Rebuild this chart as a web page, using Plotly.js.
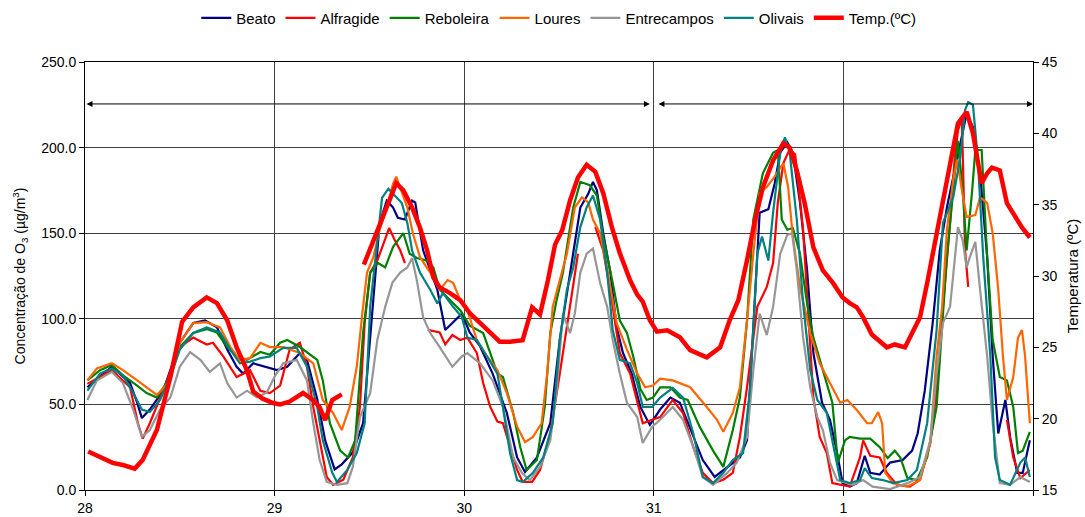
<!DOCTYPE html>
<html>
<head>
<meta charset="utf-8">
<script src="https://cdn.plot.ly/plotly-3.0.1.min.js"></script>
<style>
html,body{margin:0;padding:0;background:#fff;}
#chart{width:1085px;height:517px;}
</style>
</head>
<body>
<div id="chart"></div>
<script>
// x = hours since start of day 28
const dayTickHours = [0, 24, 48, 72, 96];
const dayTickLabels = ['28', '29', '30', '31', '1'];

const beato = [[0.3,60],[3.4,72],[5.7,62.5],[6.6,51],[7.2,42],[8.2,47],[9.9,58],[12.0,86],[13.7,97.5],[15.2,99],[16.7,95],[18.0,82],[19.2,72],[20.0,68],[21.3,74],[22.8,72],[24.3,70],[25.6,72],[27.2,80],[28.1,76],[29.4,53],[30.4,29],[31.6,12],[32.5,15],[33.9,22],[35.2,39],[36.1,88],[37.3,156],[38.2,169],[39.0,165],[39.6,159],[40.5,158],[41.4,169],[41.8,168],[42.8,140],[44.6,117],[45.6,93.5],[46.5,97.5],[47.7,103],[48.7,92],[50.0,84],[51.6,68],[53.4,45],[54.7,19],[55.7,10.5],[57.2,19],[58.9,39],[60.1,88],[61.4,127],[62.7,165],[63.7,173],[64.3,180],[64.8,175],[65.6,150],[66.5,127],[67.3,95],[68.1,80],[69.2,68],[70.3,48.5],[71.5,38],[72.8,47],[74.1,54],[75.3,51],[77.0,31],[78.2,17.5],[79.7,7.6],[81.3,13.5],[82.9,19],[83.8,29],[84.6,99],[85.4,162],[86.5,164],[87.3,179],[88.0,197],[88.9,203],[89.6,197],[90.5,168],[91.4,128.5],[92.2,80],[93.3,51],[94.3,41],[95.2,21.6],[95.9,4],[96.8,2],[97.7,4],[98.7,20],[99.4,10],[100.6,9],[101.9,16],[103.5,17.5],[104.7,23],[105.4,33],[106.3,58],[107.3,97.5],[108.2,140],[109.1,165],[110.4,194.5],[111.6,220],[112.4,212],[113.3,185],[114.2,136],[114.9,78],[115.6,33],[116.5,52.6],[117.1,31],[118.0,10],[118.7,10],[119.6,29]];

const alfragide = [[0.3,62],[3.4,70],[5.7,60],[6.7,39],[7.3,30],[8.2,39],[9.9,58],[12.0,83.5],[13.7,89],[15.4,85],[16.2,86],[17.5,78],[19.2,66],[20.9,70],[22.2,58],[23.4,56.6],[24.7,61],[25.9,82],[27.2,86],[28.1,72],[28.9,48.5],[29.7,29],[30.6,7.6],[31.4,3],[32.7,6],[33.9,19],[34.8,48.5],[35.4,97.5],[36.1,127],[37.0,134],[38.0,146],[38.5,153],[39.2,146],[39.9,140],[40.5,132.6],[41.9,null],[43.4,93.5],[44.9,92],[45.6,85],[46.5,90.5],[47.5,87.6],[48.4,89],[49.6,80],[50.4,62.5],[51.3,48.5],[52.2,40],[52.9,39],[53.8,25],[54.7,11.7],[55.4,4.7],[56.6,4.7],[57.6,11.7],[58.9,33],[60.1,68],[61.4,107],[62.4,138],[63.5,null],[64.6,153.6],[65.6,140],[66.8,107],[67.7,80],[69.0,68],[69.9,52.6],[70.6,39],[71.8,41],[72.8,42.6],[74.4,52.6],[75.7,45],[77.0,25],[78.2,10],[79.5,4],[80.8,6],[82.0,10],[82.9,31],[83.8,60],[85.1,107],[86.3,118.6],[87.1,132.6],[87.7,168],[88.4,191],[89.2,199],[89.9,196],[90.9,152],[92.2,54],[93.0,31],[93.9,21.6],[94.6,4],[95.6,3],[96.8,2],[98.1,19],[98.5,29],[99.4,20],[100.6,19],[101.5,10],[102.8,3],[104.4,2],[105.7,6],[107.0,27.5],[107.8,58],[108.6,107],[109.5,156],[110.1,194.5],[110.5,210],[111.0,217],[111.4,140],[111.8,118.6],[114.0,null],[116.7,41],[117.5,19],[118.4,7],[119.6,11.7]];

const reboleira = [[0.3,64],[1.9,70],[3.4,73],[4.8,67],[6.6,61],[7.8,56.6],[9.1,54],[10.8,66],[12.0,83.5],[13.7,91.7],[15.4,94],[16.7,92],[18.0,83.5],[19.2,78],[20.5,76],[22.2,80.6],[23.4,79],[24.7,86],[25.6,87.6],[27.2,83.5],[29.4,76],[30.1,64],[31.0,39],[32.3,23],[33.3,19],[34.2,29],[35.2,91.7],[36.1,127],[37.1,132.6],[38.0,130],[39.0,142],[40.3,150],[41.1,138],[42.0,135.5],[43.3,134],[44.1,130],[44.9,117],[46.2,111],[47.5,105],[48.7,96],[50.4,91.7],[51.3,80],[52.2,68],[52.9,66],[54.2,45],[55.1,25],[55.9,11.7],[57.2,17.5],[58.2,48.5],[58.9,91.7],[59.7,111],[60.5,127],[61.8,165],[62.7,180],[63.9,178],[64.8,172],[65.6,148],[66.8,121],[67.7,99],[68.6,91.7],[69.4,78],[70.3,59],[71.1,52.6],[71.9,54],[72.8,60],[74.1,60],[75.3,54],[76.3,52.6],[77.8,37],[79.5,23],[80.8,13.5],[82.0,35],[82.9,54],[83.8,99],[84.6,158],[85.8,185],[87.1,197],[87.7,198.6],[88.2,158],[88.9,152],[89.6,153],[90.5,138],[91.4,109],[92.2,89],[93.4,70],[94.6,51],[95.3,16],[96.2,29],[96.8,31],[98.1,30],[99.4,30],[100.6,25],[101.6,18.7],[102.5,23],[103.2,19],[104.1,7],[105.3,5.8],[106.6,19],[107.8,48.5],[108.5,97.5],[109.1,136],[109.9,175],[110.5,204],[111.1,175],[111.6,140],[112.3,175],[112.7,198.6],[113.5,198.6],[114.2,136],[114.9,87.6],[115.8,66],[116.7,64],[117.5,48.5],[118.1,21.6],[118.7,23],[119.6,34]];

const loures = [[0.3,64],[1.5,71],[3.4,74],[4.8,70],[6.6,64],[7.8,60],[9.1,55.5],[10.8,64],[12.0,86],[13.7,97.5],[15.4,98],[17.1,95],[18.4,83.5],[19.6,76],[20.9,77],[22.2,86],[23.4,83.5],[25.1,83.5],[27.2,80],[28.9,74],[30.1,52.6],[31.4,45],[32.5,35],[33.5,48.5],[34.4,72],[35.1,103],[35.7,127],[36.5,136],[37.3,152],[38.2,165],[39.0,179],[39.4,183],[40.1,173.5],[40.8,165],[41.5,150],[42.4,136],[43.7,127],[44.9,117],[45.9,122.6],[46.6,121],[47.5,111],[48.4,105],[49.6,87.6],[50.9,78],[52.2,70],[53.4,56.6],[54.7,37],[55.7,28],[56.7,31],[57.8,39],[58.5,68],[59.2,107],[60.1,122.6],[61.0,138],[62.0,165],[62.9,171],[63.7,168],[64.3,158],[65.2,150],[66.2,127],[67.3,97.5],[68.6,82],[69.9,68],[70.9,60],[71.9,61],[72.8,65],[74.4,64],[76.6,60],[78.7,48.5],[80.0,41],[80.8,34],[82.0,45],[82.9,60],[83.8,99],[84.6,138],[85.4,173.5],[86.3,177],[87.3,183],[88.4,191],[89.0,177],[89.6,148],[90.5,118.6],[91.8,91.7],[93.0,74],[94.3,62.5],[95.6,51],[96.5,52.6],[97.7,46.7],[99.0,39],[99.6,39],[100.4,45.5],[100.9,39],[101.3,10],[102.3,4],[104.1,2],[105.7,5.8],[107.0,27.5],[107.8,78],[108.5,107],[109.1,152],[109.9,181],[110.4,193],[111.0,175],[111.6,159.5],[112.7,160.6],[113.3,171],[114.2,167.6],[114.9,150],[115.6,117],[116.2,78],[116.7,52.6],[117.5,66],[118.1,89],[118.6,93.5],[119.0,78],[119.6,39]];

const entrecampos = [[0.3,52.6],[1.5,64],[3.4,69],[4.8,62.5],[6.1,47],[7.2,31],[8.2,35],[9.5,47],[10.8,54],[12.0,72],[13.3,80.6],[14.6,76],[15.8,69],[17.1,74],[18.0,62.5],[19.2,54],[20.5,58],[21.8,54],[23.0,57],[24.1,67],[25.1,74],[26.8,76],[28.1,64],[28.9,39],[29.7,17.5],[30.6,4.7],[31.9,3],[33.2,4],[33.9,13.5],[34.8,42.6],[36.1,56.6],[37.0,87.6],[38.0,107],[38.9,121],[39.9,127],[40.8,130],[41.4,135.5],[42.0,122.6],[42.8,101],[43.7,91.7],[44.9,83.5],[46.5,72],[47.7,78],[48.4,80],[50.0,74],[51.6,64],[52.9,48.5],[54.2,19],[55.3,10],[56.3,5.8],[57.6,13.5],[58.9,29],[59.7,58],[60.5,103],[61.4,91.7],[62.0,103],[62.7,127],[63.5,138],[64.3,141],[65.2,121],[66.1,107],[66.8,87.6],[67.7,68],[68.6,51],[69.9,42.6],[70.6,27.5],[71.8,37],[72.8,41],[74.4,48.5],[75.7,41],[77.0,25],[78.2,7.6],[79.5,3],[81.3,10],[82.5,16],[83.8,31],[84.6,70],[85.4,103],[86.3,90.5],[87.1,107],[88.0,138],[88.9,149],[89.5,150],[90.1,128.5],[90.9,89],[91.8,60],[92.7,42.6],[93.4,35],[94.3,16],[95.2,5.8],[96.5,4],[97.2,3],[98.5,5.8],[99.7,2],[101.9,0.5],[104.1,4],[105.7,7.6],[107.0,29],[107.8,68],[108.6,97.5],[109.5,107],[110.1,136],[110.5,153.6],[111.1,146],[111.6,130],[112.0,136],[112.7,145],[113.3,117],[114.2,78],[114.9,39],[115.8,4],[117.1,3],[118.4,7.6],[119.6,4.7]];

const olivais = [[0.3,58],[1.9,68],[3.4,71],[4.8,67],[6.1,56.6],[7.2,47],[8.2,45.5],[9.5,52.6],[10.8,66],[12.0,82],[13.7,91.7],[15.4,95],[17.1,92],[18.4,82],[19.6,74],[20.9,75],[22.2,77],[23.4,78],[25.1,83],[26.8,83],[28.1,72],[29.4,48.5],[30.1,29],[31.3,10],[31.9,4.7],[33.2,11.7],[34.4,21.6],[35.4,39],[36.1,107],[37.0,146],[37.6,170.6],[38.4,176],[39.2,172],[40.1,167.6],[40.8,156],[41.4,140],[42.4,127],[43.7,117],[44.6,109],[45.3,115],[46.6,107],[47.7,101],[48.4,89],[49.6,87.6],[50.9,78],[52.2,68],[52.9,48.5],[53.8,21.6],[54.7,5.8],[55.4,4.7],[56.7,10],[58.0,19],[59.2,39],[60.1,87.6],[61.0,117],[61.8,130],[62.7,153.6],[63.5,165],[64.3,172],[65.2,158],[66.1,127],[66.8,93.5],[67.7,76],[69.0,74],[69.9,62.5],[70.6,48.5],[71.8,48.5],[72.8,54],[74.4,59.6],[75.7,54],[77.0,33],[78.2,7.6],[79.5,4],[80.8,10],[82.0,17.5],[83.3,21.6],[84.2,60],[85.1,138],[85.7,148],[86.5,134],[87.1,162],[88.0,197],[88.6,206],[89.2,197],[90.1,158],[90.9,109],[91.8,70],[92.7,52.6],[93.9,45],[94.7,27.5],[95.6,5.8],[96.8,4],[98.1,5.8],[98.7,12.8],[99.6,7],[101.0,5.8],[102.3,4],[104.1,5.8],[105.3,11.7],[106.6,39],[107.8,93.5],[108.6,156],[109.9,171],[110.8,194.5],[111.4,222],[111.8,226.6],[112.4,225],[113.0,194.5],[113.7,136],[114.6,78],[115.2,19],[115.8,5.8],[117.1,3],[118.4,16],[119.0,19],[119.6,7.6]];

const temperature = [[0.4,17.7],[1.9,17.3],[3.5,16.9],[4.8,16.75],[6.3,16.5],[7.3,17.1],[9.1,19.2],[10.8,22.9],[12.3,26.8],[13.7,27.8],[15.4,28.5],[16.7,28.1],[18.0,26.9],[19.2,25.0],[20.5,23.4],[21.3,21.9],[22.5,21.4],[23.8,21.1],[24.7,21.0],[25.9,21.2],[27.6,21.8],[28.9,21.3],[29.7,20.8],[30.4,19.9],[31.3,21.3],[32.5,21.7],[34.0,null],[35.3,30.8],[36.5,32.5],[37.7,34.1],[38.9,35.8],[39.4,36.5],[40.3,36.0],[41.4,34.8],[42.4,33.4],[43.3,31.8],[44.1,29.9],[44.9,29.2],[46.2,28.8],[47.5,28.3],[48.7,27.4],[50.0,26.7],[51.3,26.1],[52.5,25.4],[53.8,25.4],[55.4,25.5],[56.6,27.8],[57.6,27.3],[58.6,29.7],[59.5,32.2],[60.4,33.2],[61.4,35.3],[62.4,36.9],[63.5,37.8],[64.6,37.3],[65.6,35.8],[66.7,33.4],[67.7,31.6],[69.0,29.7],[69.9,28.7],[70.6,28.2],[71.5,26.9],[72.4,26.1],[73.7,26.2],[75.3,25.7],[76.6,24.8],[78.7,24.3],[80.4,25.0],[81.6,26.9],[82.7,28.3],[83.8,31.1],[84.8,33.9],[85.8,36.2],[87.1,38.1],[88.4,39.3],[89.2,39.0],[90.1,37.4],[91.1,35.1],[92.2,32.0],[93.4,30.4],[94.7,29.5],[95.9,28.5],[96.8,28.1],[97.7,27.8],[98.5,27.1],[99.6,25.9],[101.5,25.0],[102.5,25.2],[103.8,25.0],[104.7,26.0],[105.7,27.1],[106.6,29.5],[107.6,32.3],[108.6,35.3],[109.7,38.3],[110.5,40.7],[111.6,41.5],[112.4,40.0],[113.5,36.5],[114.2,37.2],[114.8,37.6],[115.8,37.4],[116.7,35.1],[117.5,34.4],[118.6,33.4],[119.6,32.7]];

// periods marked with double arrows (hours) and their level on the O3 axis
const periods = [[0, 71.5], [72.4, 120]];
const periodLevel = 225.5;

const seriesNames = ['Beato', 'Alfragide', 'Reboleira', 'Loures', 'Entrecampos', 'Olivais'];
const seriesData = [beato, alfragide, reboleira, loures, entrecampos, olivais];
const seriesColors = ['#000080', '#FF0000', '#008000', '#FF6600', '#969696', '#008080'];

const font = 'Liberation Sans, Arial, sans-serif';

const traces = seriesData.map((d, i) => ({
  type: 'scatter', mode: 'lines', name: seriesNames[i],
  x: d.map(p => p[0]), y: d.map(p => p[1]),
  line: {color: seriesColors[i], width: 2.2},
  connectgaps: false, xaxis: 'x', yaxis: 'y'
}));
traces.push({
  type: 'scatter', mode: 'lines', name: 'Temp.(ºC)',
  x: temperature.map(p => p[0]), y: temperature.map(p => p[1]),
  line: {color: '#FF0000', width: 4.5},
  connectgaps: false, xaxis: 'x', yaxis: 'y2'
});

const annotations = periods.map(p => ({
  x: p[1], y: periodLevel, ax: p[0], ay: periodLevel,
  xref: 'x', yref: 'y', axref: 'x', ayref: 'y',
  text: '', showarrow: true, arrowhead: 2, startarrowhead: 2,
  arrowside: 'end+start', arrowsize: 1.2, startarrowsize: 1.2, arrowwidth: 1,
  arrowcolor: '#000', standoff: 0, startstandoff: 0
}));

const layout = {
  width: 1085, height: 517,
  margin: {l: 85, r: 52, t: 62, b: 27},
  paper_bgcolor: '#fff', plot_bgcolor: '#fff',
  font: {family: font, size: 14, color: '#000'},
  showlegend: true,
  legend: {orientation: 'h', xref: 'container', yref: 'container', x: 0.515, xanchor: 'center',
           y: 0.965, yanchor: 'middle',
           font: {family: font, size: 15, color: '#000'}, itemwidth: 30, tracegroupgap: 0},
  xaxis: {
    range: [0, 120], tickmode: 'array', tickvals: dayTickHours, ticktext: dayTickLabels,
    showgrid: true, gridcolor: '#404040', gridwidth: 1,
    showline: true, linecolor: '#000', linewidth: 1, mirror: true,
    ticks: 'outside', ticklen: 5, tickcolor: '#000', zeroline: false,
    minor: {tick0: 0, dtick: 24, ticks: 'outside', ticklen: 5, tickcolor: '#000', showgrid: true, gridcolor: '#404040'},
    tickfont: {family: font, size: 14, color: '#000'}
  },
  yaxis: {
    range: [0, 250], tickmode: 'linear', tick0: 0, dtick: 50, tickformat: '.1f',
    showgrid: true, gridcolor: '#404040', gridwidth: 1,
    showline: true, linecolor: '#000', linewidth: 1,
    ticks: 'outside', ticklen: 5, tickcolor: '#000', zeroline: false,
    tickfont: {family: font, size: 14, color: '#000'},
    title: {text: 'Concentração de O<sub>3</sub> (µg/m<sup>3</sup>)', font: {family: font, size: 14, color: '#000'}, standoff: 12}
  },
  yaxis2: {
    overlaying: 'y', side: 'right', range: [15, 45], tickmode: 'linear', tick0: 15, dtick: 5,
    showgrid: false, showline: true, linecolor: '#000', linewidth: 1,
    ticks: 'outside', ticklen: 5, tickcolor: '#000', zeroline: false,
    tickfont: {family: font, size: 14, color: '#000'},
    title: {text: 'Temperatura (ºC)', font: {family: font, size: 15, color: '#000'}, standoff: 10}
  },
  annotations: annotations
};

Plotly.newPlot('chart', traces, layout, {displayModeBar: false, staticPlot: true});
</script>
</body>
</html>
